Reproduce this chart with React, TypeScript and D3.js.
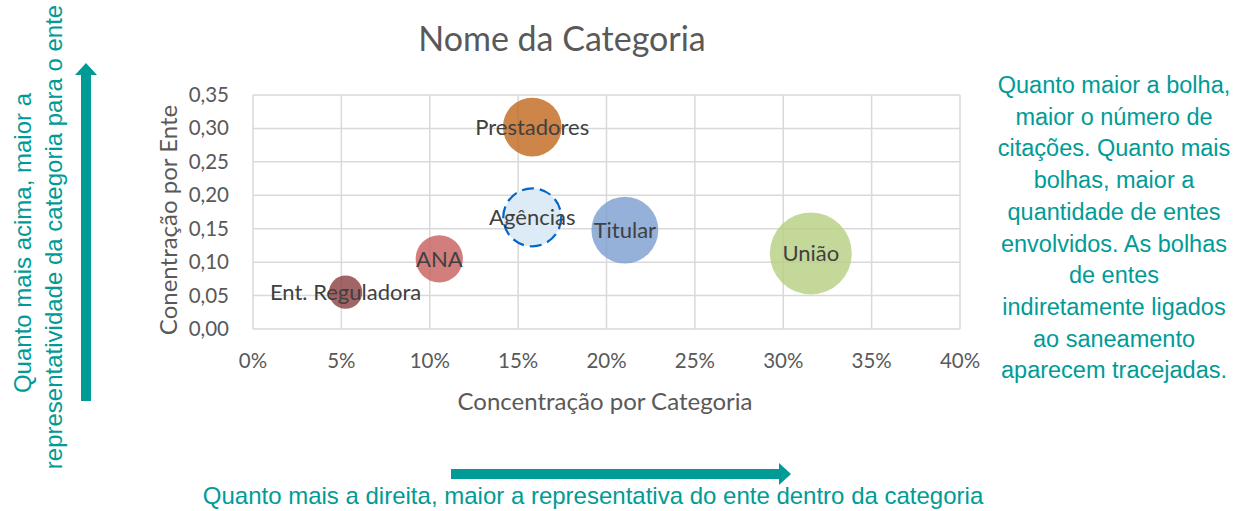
import React from "react";
import * as d3 from "d3";

const entes = ["Ent. Reguladora", "ANA", "Agências", "Prestadores", "Titular", "União"];
const concCategoria = [0.0524, 0.1054, 0.158, 0.158, 0.2104, 0.3156];
const concEnte = [0.055, 0.105, 0.167, 0.302, 0.148, 0.113];
const citacoes = [5.2, 10.5, 15.8, 16.2, 21, 31.6];
const indireto = [false, false, true, false, false, false];
const fills = ["#8B3F3F", "#C65E5C", "#DDEBF7", "#C0661D", "#7A9DCF", "#B5CF80"];
const xTicks = [0, 0.05, 0.1, 0.15, 0.2, 0.25, 0.3, 0.35, 0.4];
const yTicks = [0, 0.05, 0.1, 0.15, 0.2, 0.25, 0.3, 0.35];
const rightNote = [
  "Quanto maior a bolha,",
  "maior o número de",
  "citações. Quanto mais",
  "bolhas, maior a",
  "quantidade de entes",
  "envolvidos. As bolhas",
  "de entes",
  "indiretamente ligados",
  "ao saneamento",
  "aparecem tracejadas.",
];
const leftNote = ["Quanto mais acima, maior a", "representatividade da categoria para o ente"];
const bottomNote = "Quanto mais a direita, maior a representativa do ente dentro da categoria";

const W = 1249;
const H = 511;
const TEAL = "#009B96";
const AXIS_FONT = "Lato, 'Open Sans', sans-serif";
const NOTE_FONT = "'Liberation Sans', Arial, sans-serif";

export default function App() {
  const x = d3.scaleLinear().domain([0, 0.4]).range([253, 960]);
  const y = d3.scaleLinear().domain([0, 0.35]).range([329, 95]);
  const r = d3.scaleSqrt().domain([0, 31.6]).range([0, 41]);
  const pct = d3.format(".0%");
  const dec = (v: number) => d3.format(".2f")(v).replace(".", ",");

  return (
    <svg width={W} height={H} style={{ position: "absolute", left: 0, top: 0, background: "#fff" }}>
      {/* title */}
      <text x={562} y={51} textAnchor="middle" fontFamily={AXIS_FONT} fontSize={34} fill="#595959">
        Nome da Categoria
      </text>

      {/* gridlines */}
      {xTicks.map((t) => (
        <line key={"gx" + t} x1={x(t)} x2={x(t)} y1={y(0)} y2={y(0.35)} stroke="#D9D9D9" strokeWidth={1.5} />
      ))}
      {yTicks.map((t) => (
        <line key={"gy" + t} x1={x(0)} x2={x(0.4)} y1={y(t)} y2={y(t)} stroke="#D9D9D9" strokeWidth={1.5} />
      ))}

      {/* tick labels */}
      {xTicks.map((t) => (
        <text key={"tx" + t} x={x(t)} y={368} textAnchor="middle" fontFamily={AXIS_FONT} fontSize={20.5} fill="#595959">
          {pct(t)}
        </text>
      ))}
      {yTicks.map((t) => (
        <text key={"ty" + t} x={229} y={y(t) + 7} textAnchor="end" fontFamily={AXIS_FONT} fontSize={20.5} fill="#595959">
          {dec(t)}
        </text>
      ))}

      {/* axis titles */}
      <text x={605} y={410} textAnchor="middle" fontFamily={AXIS_FONT} fontSize={24} fill="#595959">
        Concentração por Categoria
      </text>
      <text
        transform={`translate(177, 220) rotate(-90)`}
        textAnchor="middle"
        fontFamily={AXIS_FONT}
        fontSize={24}
        fill="#595959"
      >
        Conentração por Ente
      </text>

      {/* bubbles */}
      {entes.map((e, i) => (
        <circle
          key={"b" + e}
          cx={x(concCategoria[i])}
          cy={y(concEnte[i])}
          r={r(citacoes[i])}
          fill={fills[i]}
          fillOpacity={indireto[i] ? 1 : 0.8}
          stroke={indireto[i] ? "#0066CC" : "none"}
          strokeWidth={indireto[i] ? 2.2 : 0}
          strokeDasharray={indireto[i] ? "12 6" : undefined}
        />
      ))}
      {entes.map((e, i) => (
        <text
          key={"l" + e}
          x={x(concCategoria[i])}
          y={y(concEnte[i]) + 8}
          textAnchor="middle"
          fontFamily={AXIS_FONT}
          fontSize={22}
          fill="#404040"
        >
          {e}
        </text>
      ))}

      {/* left note */}
      {leftNote.map((s, i) => (
        <text
          key={"ln" + i}
          transform={`translate(${31 + i * 31}, ${i === 0 ? 243 : 237}) rotate(-90)`}
          textAnchor="middle"
          fontFamily={NOTE_FONT}
          fontSize={24}
          fill={TEAL}
        >
          {s}
        </text>
      ))}
      <path d="M81,401 L91,401 L91,75 L97,75 L86,63 L75,75 L81,75 Z" fill={TEAL} />

      {/* right note */}
      {rightNote.map((s, i) => (
        <text
          key={"rn" + i}
          x={1114}
          y={93 + i * 31.7}
          textAnchor="middle"
          fontFamily={NOTE_FONT}
          fontSize={23.5}
          fill={TEAL}
        >
          {s}
        </text>
      ))}

      {/* bottom note */}
      <path d="M451,469 L779,469 L779,463 L791,474 L779,485 L779,479 L451,479 Z" fill={TEAL} />
      <text x={593} y={504} textAnchor="middle" fontFamily={NOTE_FONT} fontSize={24} fill={TEAL}>
        {bottomNote}
      </text>
    </svg>
  );
}
